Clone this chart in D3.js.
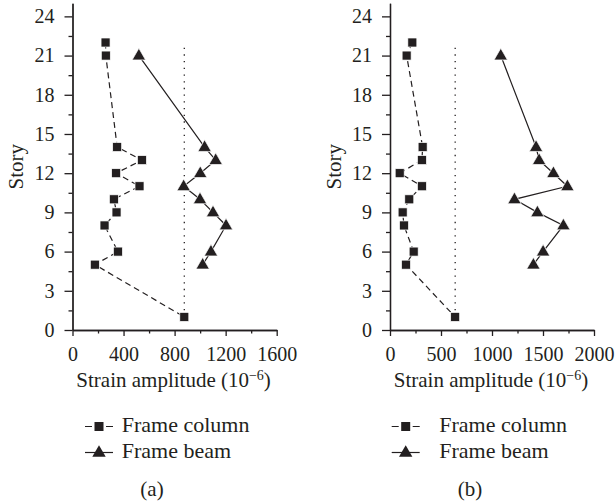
<!DOCTYPE html>
<html>
<head>
<meta charset="utf-8">
<script src="https://cdn.jsdelivr.net/npm/d3@7/dist/d3.min.js"></script>
<style>
  body { margin: 0; background: #fff; }
</style>
</head>
<body>
<svg id="chart" width="615" height="504"></svg>
<script>
// ---- data ----
const storiesColumn = [22, 21, 14, 13, 12, 11, 10, 9, 8, 6, 5, 1];
const storiesBeam = [21, 14, 13, 12, 11, 10, 9, 8, 6, 5];

const columnA = [259, 261, 350, 544, 342, 525, 324, 345, 251, 356, 175, 876];
const beamA = [520, 1035, 1122, 1001, 871, 999, 1101, 1203, 1085, 1020];
const limitA = 876;

const columnB = [219, 163, 320, 313, 95, 313, 189, 124, 137, 232, 157, 639];
const beamB = [1086, 1432, 1462, 1602, 1739, 1220, 1445, 1700, 1501, 1406];
const limitB = 639;

const limitStoryRange = [1, 21.6];

const yTicks = [0, 3, 6, 9, 12, 15, 18, 21, 24];
const yMinorTicks = [1.5, 4.5, 7.5, 10.5, 13.5, 16.5, 19.5, 22.5];
const xTicksA = [0, 400, 800, 1200, 1600];
const xMinorA = [200, 600, 1000, 1400];
const xTicksB = [0, 500, 1000, 1500, 2000];
const xMinorB = [250, 750, 1250, 1750];

const legendLabels = ["Frame column", "Frame beam"];
const panelLabels = ["(a)", "(b)"];
const xTitle = "Strain amplitude (10";
const yTitle = "Story";

// ---- layout ----
const svg = d3.select("#chart");
const ink = "#231f20";
const FONT = "'Liberation Serif', 'Times New Roman', serif";

const panels = [
  { col: columnA, beam: beamA, limit: limitA, xDom: [0, 1600], xr: [72.5, 276.7], ticks: xTicksA, minor: xMinorA,
    storyX: 23, legX: 85, legTextX: 121.7, labX: 152, label: panelLabels[0] },
  { col: columnB, beam: beamB, limit: limitB, xDom: [0, 2000], xr: [390, 594], ticks: xTicksB, minor: xMinorB,
    storyX: 341, legX: 391.7, legTextX: 439.3, labX: 470, label: panelLabels[1] }
];

const y = d3.scaleLinear().domain([0, 25]).range([330, 3.3]);
const tri = d3.symbol().type(d3.symbolTriangle).size(78);

panels.forEach(p => {
  const x = d3.scaleLinear().domain(p.xDom).range(p.xr);
  const g = svg.append("g");

  // axes
  const yAxis = d3.axisLeft(y).tickValues(yTicks).tickSize(8).tickPadding(10).tickSizeOuter(0).tickFormat(d3.format("d"));
  const yMinor = d3.axisLeft(y).tickValues(yMinorTicks).tickSize(4).tickFormat("").tickSizeOuter(0);
  const xAxis = d3.axisBottom(x).tickValues(p.ticks).tickSize(6).tickPadding(11).tickSizeOuter(0).tickFormat(d3.format("d"));
  const xMinorAx = d3.axisBottom(x).tickValues(p.minor).tickSize(3.5).tickFormat("").tickSizeOuter(0);

  [[yAxis, `translate(${p.xr[0]},0)`], [yMinor, `translate(${p.xr[0]},0)`],
   [xAxis, `translate(0,${y(0)})`], [xMinorAx, `translate(0,${y(0)})`]].forEach(([ax, tr]) => {
    const a = g.append("g").attr("transform", tr).call(ax);
    a.attr("font-family", null).attr("font-size", null);
    a.selectAll("path, line").attr("stroke", ink).attr("stroke-width", 1.3);
    a.selectAll("text").attr("font-size", 20);
  });

  // dotted limit line
  g.append("line")
    .attr("x1", x(p.limit)).attr("x2", x(p.limit))
    .attr("y1", y(limitStoryRange[0])).attr("y2", y(limitStoryRange[1]))
    .attr("stroke", ink).attr("stroke-width", 1.3).attr("stroke-dasharray", "1.3,5.4");

  const line = d3.line().x(d => x(d[0])).y(d => y(d[1]));

  // column: dashed
  const colPts = p.col.map((v, i) => [v, storiesColumn[i]]);
  g.append("path").attr("d", line(colPts)).attr("fill", "none")
    .attr("stroke", ink).attr("stroke-width", 1.2).attr("stroke-dasharray", "6,4");
  // beam: solid
  const beamPts = p.beam.map((v, i) => [v, storiesBeam[i]]);
  g.append("path").attr("d", line(beamPts)).attr("fill", "none")
    .attr("stroke", ink).attr("stroke-width", 1.2);

  // markers
  g.selectAll(".sq").data(colPts).join("rect")
    .attr("x", d => x(d[0]) - 4.5).attr("y", d => y(d[1]) - 4.5)
    .attr("width", 9).attr("height", 9)
    .attr("fill", ink).attr("stroke", "#fff").attr("stroke-width", 0.7);
  g.selectAll(".tr").data(beamPts).join("path")
    .attr("d", tri)
    .attr("transform", d => `translate(${x(d[0])},${y(d[1]) + 0.5})`)
    .attr("fill", ink).attr("stroke", "#fff").attr("stroke-width", 0.7);

  // x title
  const cx = (p.xr[0] + p.xr[1]) / 2;
  const t = g.append("text").attr("x", cx - 1).attr("y", 387).attr("text-anchor", "middle").attr("font-size", 21);
  t.append("tspan").text(xTitle);
  t.append("tspan").attr("dy", -7.5).attr("font-size", 14).text("\u22126");
  t.append("tspan").attr("dy", 7.5).text(")");

  // y title
  g.append("text").attr("transform", `translate(${p.storyX},${y(12.5)}) rotate(-90)`)
    .attr("text-anchor", "middle").attr("font-size", 21).text(yTitle);

  // legend
  const ly1 = 426.5, ly2 = 452.5;
  g.append("line").attr("x1", p.legX).attr("x2", p.legX + 28).attr("y1", ly1).attr("y2", ly1)
    .attr("stroke", ink).attr("stroke-width", 1.2).attr("stroke-dasharray", "7,14,7");
  g.append("rect").attr("x", p.legX + 14 - 4.5).attr("y", ly1 - 4.5).attr("width", 9).attr("height", 9).attr("fill", ink);
  g.append("line").attr("x1", p.legX).attr("x2", p.legX + 28).attr("y1", ly2).attr("y2", ly2)
    .attr("stroke", ink).attr("stroke-width", 1.2);
  g.append("path").attr("d", tri).attr("transform", `translate(${p.legX + 14},${ly2 + 0.5})`).attr("fill", ink);
  g.append("text").attr("x", p.legTextX).attr("y", 432).attr("font-size", 22).text(legendLabels[0]);
  g.append("text").attr("x", p.legTextX).attr("y", 458).attr("font-size", 22).text(legendLabels[1]);

  // panel label
  g.append("text").attr("x", p.labX).attr("y", 496).attr("text-anchor", "middle").attr("font-size", 21).text(p.label);
});

svg.selectAll("text").style("font-family", FONT).attr("fill", ink);
</script>
</body>
</html>
